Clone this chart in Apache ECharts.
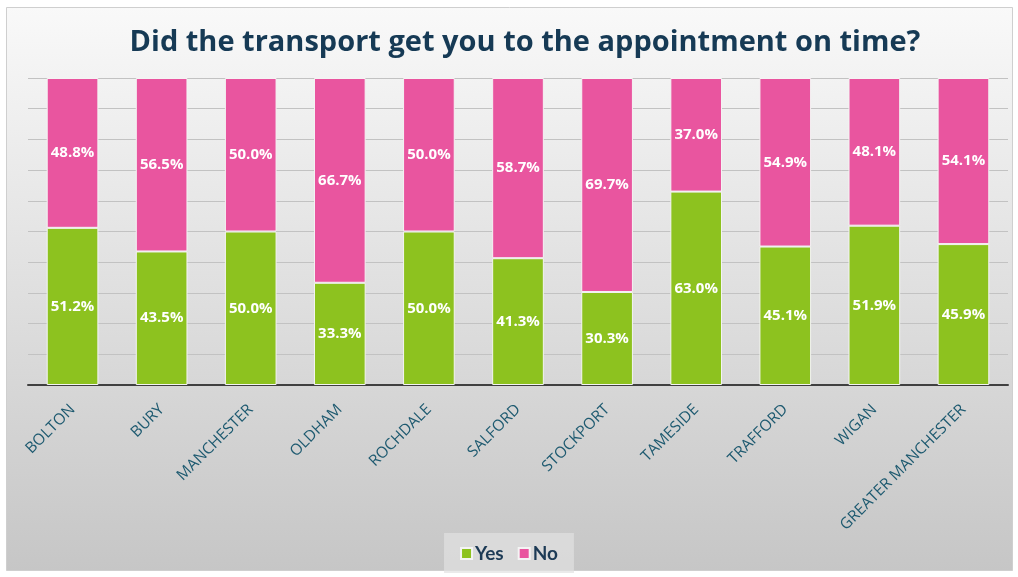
<!DOCTYPE html>
<html><head><meta charset="utf-8">
<script src="https://cdn.jsdelivr.net/npm/echarts@6/dist/echarts.min.js"></script>
<style>html,body{margin:0;padding:0;background:#fff}#c{width:1018px;height:577px}</style>
</head><body><div id="c"></div>
<script>
const categories = ['BOLTON','BURY','MANCHESTER','OLDHAM','ROCHDALE','SALFORD','STOCKPORT','TAMESIDE','TRAFFORD','WIGAN','GREATER MANCHESTER'];
const yesValues = [51.2, 43.5, 50.0, 33.3, 50.0, 41.3, 30.3, 63.0, 45.1, 51.9, 45.9];
const noValues = [48.8, 56.5, 50.0, 66.7, 50.0, 58.7, 69.7, 37.0, 54.9, 48.1, 54.1];

const chart = echarts.init(document.getElementById('c'), null, {renderer:'canvas'});
const lbl = {show:true, position:'inside', color:'#fff', fontFamily:'Open Sans', fontWeight:'bold', fontSize:15, formatter: p => p.value.toFixed(1) + '%'};
chart.setOption({
  animation:false,
  graphic:[{type:'rect', z:-10, left:6, top:7, shape:{width:1006, height:563},
    style:{fill:new echarts.graphic.LinearGradient(0,0,0,1,[{offset:0,color:'#f9f9f9'},{offset:1,color:'#c6c6c6'}]), stroke:'#cfcfcf', lineWidth:1}}],
  title:{text:'Did the transport get you to the appointment on time?', left:520, textAlign:'center', top:23,
    textStyle:{fontFamily:'Open Sans', fontWeight:'bold', fontSize:29, color:'#163a55'}},
  legend:{bottom:4, left:'center', itemWidth:11, itemHeight:11, itemGap:14, icon:'rect',
    backgroundColor:'rgba(225,225,225,0.7)', padding:[11,16,10,16],
    textStyle:{fontFamily:'Lato', fontWeight:'bold', fontSize:19, color:'#1c3a55', padding:[0,0,0,-2]}, data:['Yes','No']},
  grid:{left:28, right:10, top:78, bottom:192, containLabel:false},
  xAxis:{type:'category', data:categories, axisTick:{show:false},
    axisLine:{lineStyle:{color:'#404040', width:2}},
    axisLabel:{rotate:45, interval:0, margin:22, color:'#1e5a70', fontFamily:'Open Sans', fontSize:15.5}},
  yAxis:{type:'value', min:0, max:100, interval:10, axisLabel:{show:false}, axisLine:{show:false}, axisTick:{show:false},
    splitLine:{lineStyle:{color:'#c2c2c2', width:1}}},
  series:[
    {name:'Yes', type:'bar', stack:'s', data:yesValues, barWidth:'58%', itemStyle:{color:'#8dc21f', borderColor:'#f4f4f4', borderWidth:1}, label:lbl},
    {name:'No', type:'bar', stack:'s', data:noValues, barWidth:'58%', itemStyle:{color:'#e9559f', borderColor:'#f4f4f4', borderWidth:1}, label:lbl}
  ]
});
</script></body></html>
